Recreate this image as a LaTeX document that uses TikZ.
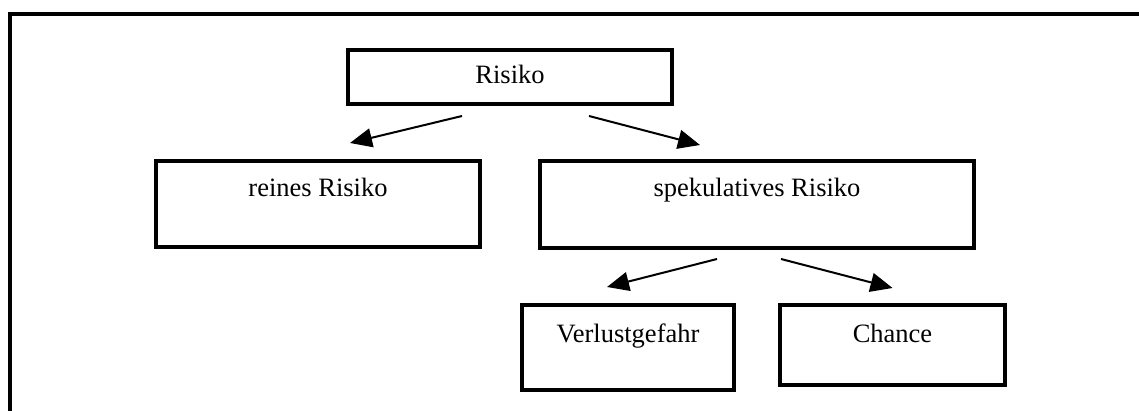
\documentclass[tikz,border=0pt]{standalone}
\usepackage{fontspec}
\setmainfont{Liberation Serif}
\usetikzlibrary{arrows.meta,positioning}

\begin{document}
\begin{tikzpicture}[x=1pt,y=-1pt,
  kasten/.style={rectangle, draw, line width=4pt, inner sep=0pt, anchor=north west, font=\fontsize{26.5}{30}\selectfont},
  pfeil/.style={line width=2pt, -{Triangle[length=22pt,width=19pt]}}]
\useasboundingbox (0,0) rectangle (1139,411);
\clip (0,0) rectangle (1139,411);
% Rahmen
\draw[line width=4pt] (9.5,14) rectangle (1160,430);

% Oben
\node[kasten, minimum width=324pt, text height=34pt, text depth=20pt] (risiko) at (346,48) {Risiko};
\node[kasten, minimum width=324pt, text height=36pt, text depth=50pt] (rein) at (154,159) {reines Risiko};
\node[kasten, minimum width=434pt, text height=36pt, text depth=51pt] (spek) at (538,159) {spekulatives Risiko};

\draw[pfeil] ([shift={(-48,10)}]risiko.south) -- ([shift={(32,-16)}]rein.north);
\draw[pfeil] ([shift={(79,10)}]risiko.south) -- ([shift={(-57,-14)}]spek.north);

% Unten
\node[kasten, minimum width=212pt, text height=37pt, text depth=48pt] (verlust) at (520,303) {Verlustgefahr};
\node[kasten, minimum width=225pt, text height=37pt, text depth=43pt] (chance) at (778,303) {Chance};

\draw[pfeil] ([shift={(-40,9)}]spek.south) -- ([shift={(-21,-16)}]verlust.north);
\draw[pfeil] ([shift={(24,9)}]spek.south) -- ([shift={(0,-15)}]chance.north);
\end{tikzpicture}
\end{document}
